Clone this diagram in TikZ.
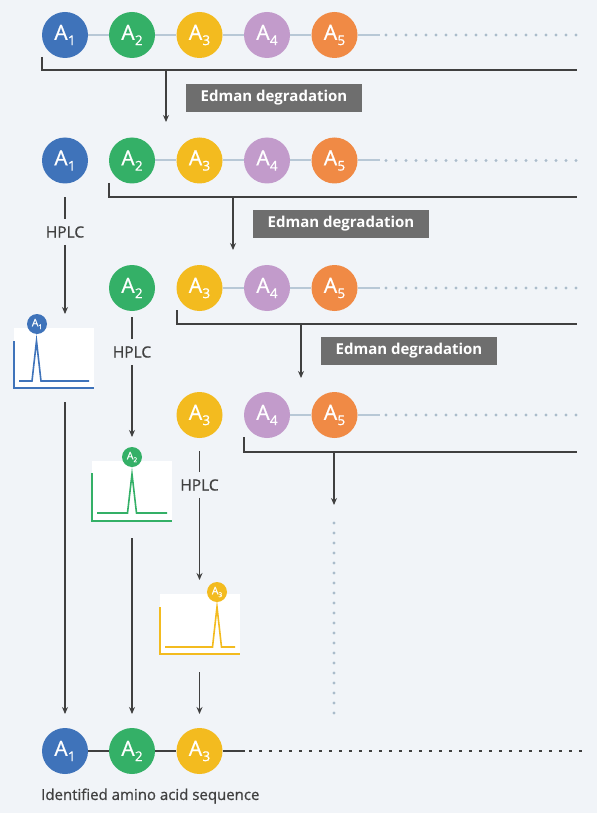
\documentclass[tikz,border=0pt]{standalone}
\usepackage{fontspec}
\setmainfont{Open Sans}
\newfontfamily\medfont{Open Sans}[FakeBold=0.8]
\usetikzlibrary{arrows.meta}
\definecolor{bgc}{HTML}{F1F4F8}
\definecolor{ca}{HTML}{3F73BA}
\definecolor{cb}{HTML}{34B067}
\definecolor{cc}{HTML}{F3BB1F}
\definecolor{cd}{HTML}{C29BCB}
\definecolor{ce}{HTML}{F08A45}
\definecolor{linkc}{HTML}{B8C8D6}
\definecolor{dotc}{HTML}{ABBCCB}
\definecolor{darkc}{HTML}{404040}
\definecolor{edc}{HTML}{6E6E6E}
\newcommand\Asub[1]{A\kern0.3pt\raisebox{-0.25em}{\fontsize{13.5}{13.5}\selectfont #1}}
\newcommand\Abadge[1]{A\raisebox{-0.25em}{\fontsize{6.5}{6.5}\selectfont #1}}
\begin{document}
\begin{tikzpicture}[x=1pt,y=-1pt,
  aa/.style={circle, minimum size=46pt, inner sep=0pt, text=white, fill=#1, font=\medfont\fontsize{21}{21}\selectfont},
  badge/.style={circle, minimum size=20pt, inner sep=0pt, text=white, fill=#1, font=\medfont\fontsize{10.5}{10.5}\selectfont},
  link/.style={linkc, line width=2pt},
  tdots/.style={dotc, line width=3.4pt, line cap=round, dash pattern=on 0pt off 10pt},
  bdots/.style={darkc, line width=2.6pt, dash pattern=on 2.6pt off 7.4pt},
  conn/.style={darkc, line width=1.1pt},
  arr/.style={darkc, line width=1.1pt, -{Stealth[length=7pt,width=6pt]}},
  edman/.style={fill=edc, text=white, minimum width=176pt, minimum height=28pt, inner sep=0pt, font=\fontsize{15}{15}\selectfont\bfseries},
  hplc/.style={text=darkc, font=\medfont\fontsize{15.5}{15.5}\selectfont, inner sep=0pt},
  chbox/.style={fill=white, minimum width=80pt, minimum height=60pt, inner sep=0pt},
  axis/.style={#1, line width=2pt},
  trace/.style={#1, line width=1.6pt, line join=miter}
]
\fill[bgc] (0,0) rectangle (597,813);
\useasboundingbox (0,0) rectangle (597,813);

% ---------- Row 1 ----------
\node[aa=ca] (r1a) at (65,35) {\Asub{1}};
\node[aa=cb] (r1b) at (132,35) {\Asub{2}};
\node[aa=cc] (r1c) at (199.5,35) {\Asub{3}};
\node[aa=cd] (r1d) at (267,35) {\Asub{4}};
\node[aa=ce] (r1e) at (334.5,35) {\Asub{5}};
\coordinate (r1l) at (380,35);
\coordinate (r1d0) at (386,35);
\coordinate (r1d1) at (578,35);
\draw[link] (r1a) -- (r1b) (r1b) -- (r1c) (r1c) -- (r1d) (r1d) -- (r1e) (r1e) -- (r1l);
\draw[tdots] (r1d0) -- (r1d1);

\coordinate (k1a) at (42,57);
\coordinate (k1b) at (42,70);
\coordinate (k1c) at (577,70);
\coordinate (k1s) at (166,70);
\coordinate (k1t) at (166,122);
\draw[conn] (k1a) -- (k1b) -- (k1c);
\draw[arr] (k1s) -- (k1t);
\node[edman] (e1) at (274,98) {Edman degradation};

% ---------- Row 2 ----------
\node[aa=ca] (r2a) at (65,160.5) {\Asub{1}};
\node[aa=cb] (r2b) at (132,160.5) {\Asub{2}};
\node[aa=cc] (r2c) at (199.5,160.5) {\Asub{3}};
\node[aa=cd] (r2d) at (267,160.5) {\Asub{4}};
\node[aa=ce] (r2e) at (334.5,160.5) {\Asub{5}};
\coordinate (r2l) at (380,160.5);
\coordinate (r2d0) at (386,160.5);
\coordinate (r2d1) at (578,160.5);
\draw[link] (r2b) -- (r2c) (r2c) -- (r2d) (r2d) -- (r2e) (r2e) -- (r2l);
\draw[tdots] (r2d0) -- (r2d1);

\coordinate (k2a) at (109,183);
\coordinate (k2b) at (109,197);
\coordinate (k2c) at (577,197);
\coordinate (k2s) at (233,197);
\coordinate (k2t) at (233,250);
\draw[conn] (k2a) -- (k2b) -- (k2c);
\draw[arr] (k2s) -- (k2t);
\node[edman] (e2) at (341,224) {Edman degradation};

% HPLC 1
\node[hplc] (h1) at (65,232) {HPLC};
\coordinate (h1s) at (65,197);
\coordinate (h1t) at (65,314);
\draw[conn] (h1s) -- ([yshift=7pt]h1.north);
\draw[arr] ([yshift=-7pt]h1.south) -- (h1t);

% ---------- Row 3 ----------
\node[aa=cb] (r3b) at (132,288) {\Asub{2}};
\node[aa=cc] (r3c) at (199.5,288) {\Asub{3}};
\node[aa=cd] (r3d) at (267,288) {\Asub{4}};
\node[aa=ce] (r3e) at (334.5,288) {\Asub{5}};
\coordinate (r3l) at (380,288);
\coordinate (r3d0) at (386,288);
\coordinate (r3d1) at (578,288);
\draw[link] (r3c) -- (r3d) (r3d) -- (r3e) (r3e) -- (r3l);
\draw[tdots] (r3d0) -- (r3d1);

\coordinate (k3a) at (177,310);
\coordinate (k3b) at (177,324);
\coordinate (k3c) at (577,324);
\coordinate (k3s) at (301,324);
\coordinate (k3t) at (301,378);
\draw[conn] (k3a) -- (k3b) -- (k3c);
\draw[arr] (k3s) -- (k3t);
\node[edman] (e3) at (409,350.5) {Edman degradation};

% HPLC 2
\node[hplc] (h2) at (132,352) {HPLC};
\coordinate (h2s) at (132,317);
\coordinate (h2t) at (132,437);
\draw[conn] (h2s) -- ([yshift=7pt]h2.north);
\draw[arr] ([yshift=-7pt]h2.south) -- (h2t);

% Chromatogram 1
\node[chbox] (ch1) at (54,358) {};
\draw[axis=ca] (14,341) -- (14,388) -- (94,388);
\draw[trace=ca] (19,381) -- (32,381) -- (36.5,341) -- (41,381) -- (89,381);
\node[badge=ca] (bd1) at (37,324) {\Abadge{1}};

% ---------- Row 4 ----------
\node[aa=cc] (r4c) at (199.5,415) {\Asub{3}};
\node[aa=cd] (r4d) at (267,415) {\Asub{4}};
\node[aa=ce] (r4e) at (334.5,415) {\Asub{5}};
\coordinate (r4l) at (380,415);
\coordinate (r4d0) at (386,415);
\coordinate (r4d1) at (578,415);
\draw[link] (r4d) -- (r4e) (r4e) -- (r4l);
\draw[tdots] (r4d0) -- (r4d1);

\coordinate (k4a) at (244,437);
\coordinate (k4b) at (244,452);
\coordinate (k4c) at (577,452);
\coordinate (k4s) at (334,452);
\coordinate (k4t) at (334,505);
\draw[conn] (k4a) -- (k4b) -- (k4c);
\draw[arr] (k4s) -- (k4t);
\coordinate (vd0) at (334,523);
\coordinate (vd1) at (334,716);
\draw[tdots] (vd0) -- (vd1);

% HPLC 3
\node[hplc] (h3) at (199.5,485) {HPLC};
\coordinate (h3s) at (199.5,451);
\coordinate (h3t) at (199.5,580);
\draw[conn] (h3s) -- ([yshift=7pt]h3.north);
\draw[arr] ([yshift=-7pt]h3.south) -- (h3t);

% Chromatogram 2
\node[chbox] (ch2) at (132,491) {};
\draw[axis=cb] (92,473) -- (92,521) -- (172,521);
\draw[trace=cb] (97,513) -- (127.5,513) -- (132,474) -- (136.5,513) -- (167,513);
\node[badge=cb] (bd2) at (132,457) {\Abadge{2}};

% Chromatogram 3
\node[chbox] (ch3) at (200,624) {};
\draw[axis=cc] (160,607) -- (160,654) -- (240,654);
\draw[trace=cc] (165,647) -- (212.5,647) -- (217,607) -- (221.5,647) -- (235,647);
\node[badge=cc] (bd3) at (217,592) {\Abadge{3}};

% ---------- Result row ----------
\node[aa=ca] (b1) at (65,751) {\Asub{1}};
\node[aa=cb] (b2) at (132,751) {\Asub{2}};
\node[aa=cc] (b3) at (199.5,751) {\Asub{3}};
\coordinate (bl) at (245,751);
\coordinate (bd0) at (249,751);
\coordinate (bd1) at (582,751);
\draw[darkc, line width=2pt] (b1) -- (b2) (b2) -- (b3) (b3) -- (bl);
\draw[bdots] (bd0) -- (bd1);

\coordinate (f1s) at (65,402);
\coordinate (f1t) at (65,714);
\coordinate (f2s) at (132,538);
\coordinate (f2t) at (132,714);
\coordinate (f3s) at (199.5,672);
\coordinate (f3t) at (199.5,714);
\draw[arr] (f1s) -- (f1t);
\draw[arr] (f2s) -- (f2t);
\draw[arr] (f3s) -- (f3t);

\node[text=darkc, font=\medfont\fontsize{15}{15}\selectfont, anchor=west, inner sep=0pt] (lbl) at (41,796) {Identified amino acid sequence};
\end{tikzpicture}
\end{document}
